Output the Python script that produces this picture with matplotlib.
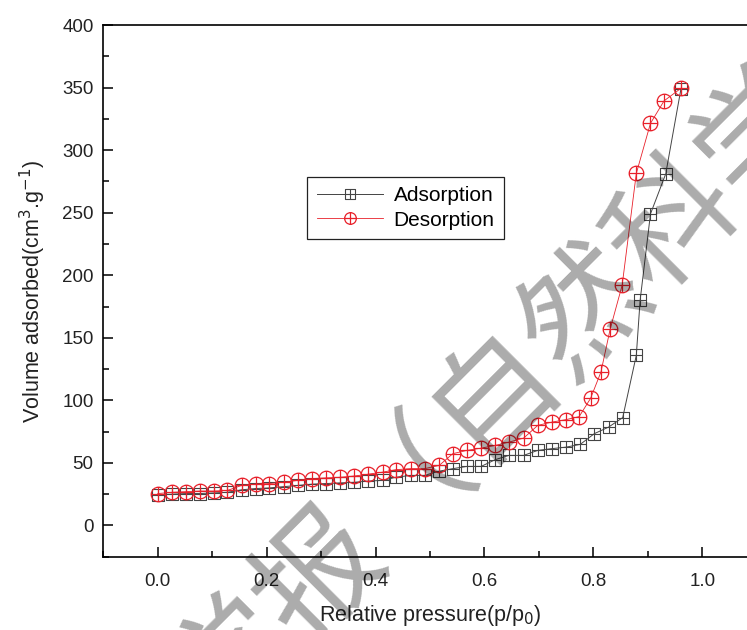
import matplotlib
matplotlib.use("Agg")
import matplotlib.pyplot as plt
from matplotlib.path import Path
from matplotlib.ticker import MultipleLocator

plt.rcParams['font.family'] = ['Liberation Sans', 'DejaVu Sans']

# data read from the isotherm
ads_x = [0.000, 0.026, 0.052, 0.077, 0.103, 0.128, 0.154, 0.180, 0.205, 0.231,
         0.257, 0.283, 0.309, 0.335, 0.361, 0.387, 0.413, 0.438, 0.465, 0.490,
         0.517, 0.542, 0.568, 0.594, 0.620, 0.645, 0.672, 0.698, 0.724, 0.750,
         0.776, 0.802, 0.828, 0.854, 0.879, 0.886, 0.905, 0.933, 0.961]
ads_y = [24.5, 25.0, 25.5, 25.5, 26.0, 26.5, 28.5, 29.5, 30.0, 31.0,
         32.0, 33.0, 33.5, 34.0, 34.5, 35.5, 36.0, 38.6, 40.0, 40.0,
         43.4, 45.4, 47.2, 47.2, 52.6, 56.0, 56.0, 60.0, 61.4, 62.6,
         64.8, 73.4, 78.6, 86.2, 136.0, 180.0, 249.0, 281.0, 349.0]

des_x = [0.000, 0.026, 0.052, 0.077, 0.103, 0.128, 0.154, 0.180, 0.205, 0.231,
         0.257, 0.283, 0.309, 0.335, 0.361, 0.387, 0.413, 0.438, 0.465, 0.490,
         0.517, 0.542, 0.568, 0.594, 0.620, 0.645, 0.672, 0.698, 0.724, 0.750,
         0.774, 0.795, 0.814, 0.831, 0.853, 0.879, 0.905, 0.930, 0.961]
des_y = [25.5, 26.5, 27.0, 27.5, 27.5, 28.0, 32.0, 33.0, 33.5, 34.5,
         36.0, 37.5, 38.0, 38.5, 39.5, 41.0, 42.6, 44.6, 45.4, 45.4,
         48.0, 57.4, 60.0, 61.8, 64.0, 66.6, 69.8, 80.0, 82.6, 84.6,
         87.0, 101.6, 122.6, 157.0, 192.0, 281.4, 321.4, 339.4, 349.4]

watermark = "学报（自然科学"

# square / circle markers with a cross inside
sq = Path.unit_rectangle().transformed(
    matplotlib.transforms.Affine2D().translate(-0.5, -0.5).scale(2))
cross = Path([(0, -1), (0, 1), (-1, 0), (1, 0)],
             [Path.MOVETO, Path.LINETO, Path.MOVETO, Path.LINETO])
sq_cross = Path.make_compound_path(sq, cross)
circ_cross = Path.make_compound_path(Path.unit_circle(), cross)

fig = plt.figure(figsize=(7.47, 6.3), dpi=100)
# right spine sits just past the right edge, as in the original
ax = fig.add_axes([0.1383, 0.1163, 0.8746, 0.844])

ax.plot(ads_x, ads_y, color='#444444', lw=0.7, marker=sq_cross, ms=9,
        mfc='none', mec='#444444', mew=0.8, label='Adsorption')
ax.plot(des_x, des_y, color='#e8202a', lw=0.6, marker=circ_cross, ms=10.5,
        mfc='none', mec='#e8202a', mew=0.9, label='Desorption')

ax.set_xlim(-0.1, 1.1)
ax.set_ylim(-25, 400)
ax.xaxis.set_minor_locator(MultipleLocator(0.1))
ax.yaxis.set_minor_locator(MultipleLocator(25))
ax.set_xticks([0.0, 0.2, 0.4, 0.6, 0.8, 1.0])
ax.set_yticks([0, 50, 100, 150, 200, 250, 300, 350, 400])
ax.tick_params(which='both', direction='in', width=1.1, labelsize=13.5,
               labelcolor='#222222')
ax.tick_params(which='major', length=7.5)
ax.tick_params(which='minor', length=4)
ax.tick_params(axis='x', pad=12)
ax.tick_params(axis='y', pad=7)
for s in ax.spines.values():
    s.set_linewidth(1.2)

ax.set_xlabel('Relative pressure(p/p$_0$)', fontsize=15.5, labelpad=9,
              color='#222222')
ax.set_ylabel('Volume adsorbed(cm$^3$.g$^{-1}$)', fontsize=15.5, labelpad=10,
              color='#222222')

leg = ax.legend(loc='upper left', bbox_to_anchor=(0.312, 0.714),
                borderaxespad=0, fontsize=15, fancybox=False, framealpha=1,
                edgecolor='#222222', markerscale=0.8, handlelength=3.2,
                handletextpad=0.5, labelspacing=0.25, borderpad=0.45)
leg.get_frame().set_linewidth(0.9)

# diagonal, see-through watermark over the plot
fig.text(497 / 747, 1 - 398 / 630, watermark, fontsize=90,
         family=['Noto Sans CJK SC', 'DejaVu Sans'], weight='medium',
         color='black', alpha=0.33, rotation=45, rotation_mode='anchor',
         ha='center', va='center', zorder=10)

fig.savefig('out.png', dpi=100)
